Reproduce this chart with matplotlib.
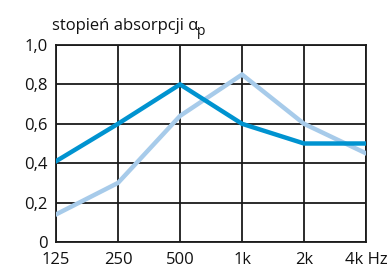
import matplotlib
matplotlib.use('Agg')
from matplotlib import pyplot as plt

freqs = ["125", "250", "500", "1k", "2k", "4k Hz"]
dark = [0.41, 0.60, 0.80, 0.60, 0.50, 0.50]
light = [0.14, 0.30, 0.64, 0.85, 0.60, 0.45]
yticks = [0, 0.2, 0.4, 0.6, 0.8, 1.0]
ylabels = ["0", "0,2", "0,4", "0,6", "0,8", "1,0"]

plt.rcParams['font.family'] = ['Open Sans', 'DejaVu Sans']

fig = plt.figure(figsize=(3.9, 2.69), dpi=100)
ax = fig.add_axes([0.1436, 0.1004, 0.795, 0.7323])

x = range(len(freqs))
ax.plot(x, light, color='#a7cbea', linewidth=3.2, solid_joinstyle='miter', zorder=3)
ax.plot(x, dark, color='#0093d0', linewidth=3.2, solid_joinstyle='miter', zorder=4)

ax.set_xlim(0, len(freqs) - 1)
ax.set_ylim(0, 1.0)
ax.set_xticks(list(x))
ax.set_xticklabels(freqs)
ax.set_yticks(yticks)
ax.set_yticklabels(ylabels)
ax.tick_params(length=0, labelsize=12, colors='#111111')
ax.tick_params(axis='x', pad=7)
ax.tick_params(axis='y', pad=6)
ax.grid(True, color='#1a1a1a', linewidth=1.3)
for s in ax.spines.values():
    s.set_color('#1a1a1a')
    s.set_linewidth(1.3)
ax.set_axisbelow(True)

title = fig.text(52 / 390, 1 - 30 / 269, "stopień absorpcji α",
                 fontsize=12, color='#111111', ha='left', va='baseline')
fig.canvas.draw()
bb = title.get_window_extent()
# subscript p, a bit smaller and dropped below the baseline
fig.text((bb.x1 - 1) / fig.bbox.width, 1 - 35 / 269, "p",
         fontsize=10, color='#111111', ha='left', va='baseline')

plt.savefig('out.png', dpi=100)
